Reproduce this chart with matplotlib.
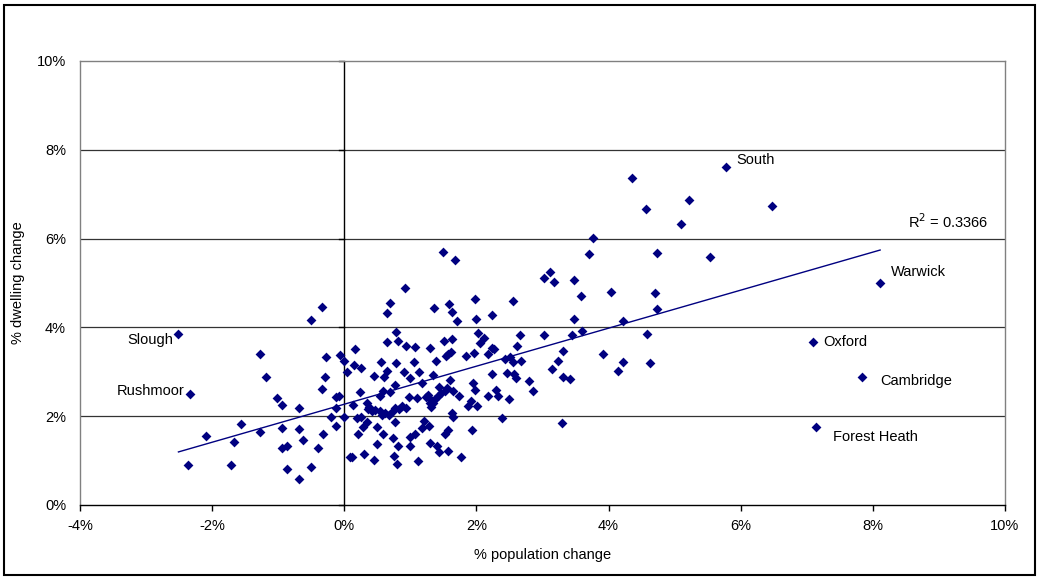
import numpy as np
import matplotlib
matplotlib.use("Agg")
import matplotlib.pyplot as plt
from matplotlib.patches import Rectangle

plt.rcParams['font.family'] = ['Liberation Sans', 'DejaVu Sans']

# % population change / % dwelling change for each district
pop_change = [
    -0.34, -0.50, -1.28, -0.27, -0.07, -0.01, 0.04, -1.18, -0.29, -0.33, -1.02, -0.95,
    -0.68, -0.12, -0.08, -0.12, -0.20, -0.01, -1.56, -2.10, -1.67, -1.28, -0.95, -0.69,
    -0.62, -0.32, -0.12, -0.95, -0.87, -0.40, 0.08, -2.36, -1.71, -0.86, -0.51, -0.69,
    0.92, 0.69, 0.65, 1.36, 1.58, 1.63, 1.70, 1.98, 1.99, 2.24, 2.56,
    0.78, 0.64, 0.82, 0.93, 1.07, 1.30, 1.51, 1.63, 2.02, 2.12, 2.05, 2.24, 2.27, 2.66,
    2.62, 0.16, 0.15, 0.25, 0.56, 0.78, 1.05, 0.64, 0.60, 0.45, 0.91, 0.99, 1.13, 1.34,
    1.39, 1.54, 1.57, 1.61, 1.84, 1.96, 2.17, 1.60, 2.23, 2.43, 2.51, 2.56, 2.68, 2.47,
    2.57, 2.60, 2.80, 2.85,
    0.77, 0.69, 0.59, 0.54, 0.24, 0.13, 0.35, 0.36, 0.42, 0.47, 0.54, 0.57, 0.67, 0.72,
    0.77, 0.83, 0.93, 0.98, 1.10, 1.18, 1.23, 1.28, 1.30, 1.31, 1.37, 1.42, 1.43, 1.47,
    1.52, 1.55, 1.65, 1.74, 1.87, 1.92, 1.95, 1.98, 2.01, 2.18, 2.29, 2.33, 2.50, 2.39,
    1.63, 1.65, 0.38, 0.62, 0.88, 1.35, 1.33, 1.26,
    0.19, 0.25, 0.34, 0.29, 0.21, 0.49, 0.77, 0.59, 0.74, 0.49, 0.81, 0.99, 1.07, 1.00,
    1.21, 1.18, 1.28, 1.29, 1.40, 1.43, 1.57, 1.53, 1.93, 0.11, 0.30, 0.45, 0.76, 0.80,
    1.11, 1.57, 1.77, 1.50, 1.67,
    4.36, 4.57, 5.22, 5.09, 6.47, 3.77, 3.71, 4.74, 5.54, 3.02, 3.12, 3.18, 3.47, 3.58,
    4.03, 4.71, 4.73, 3.48, 4.22, 3.03, 3.45, 3.60, 4.58, 3.31, 3.24, 3.14, 3.91, 4.22,
    4.14, 4.63, 3.31, 3.41, 3.30,
]
dwell_change = [
    4.47, 4.16, 3.41, 3.33, 3.38, 3.24, 3.00, 2.89, 2.89, 2.62, 2.41, 2.26,
    2.18, 2.44, 2.45, 2.18, 1.99, 1.99, 1.82, 1.55, 1.43, 1.64, 1.73, 1.72,
    1.47, 1.59, 1.79, 1.29, 1.34, 1.29, 1.07, 0.91, 0.89, 0.80, 0.85, 0.58,
    4.88, 4.56, 4.33, 4.43, 4.52, 4.35, 4.15, 4.65, 4.19, 4.29, 4.59,
    3.90, 3.68, 3.69, 3.58, 3.55, 3.54, 3.69, 3.73, 3.88, 3.77, 3.64, 3.54, 3.51, 3.84,
    3.57, 3.51, 3.15, 3.08, 3.23, 3.19, 3.21, 3.02, 2.88, 2.90, 2.99, 2.86, 3.00, 2.93,
    3.24, 3.36, 3.39, 3.45, 3.36, 3.43, 3.41, 2.82, 2.94, 3.29, 3.34, 3.23, 3.24, 2.98,
    2.94, 2.85, 2.79, 2.57,
    2.70, 2.54, 2.57, 2.45, 2.54, 2.25, 2.29, 2.16, 2.12, 2.15, 2.12, 2.03, 2.03, 2.10,
    2.19, 2.16, 2.18, 2.43, 2.42, 2.75, 2.44, 2.40, 2.29, 2.21, 2.38, 2.45, 2.66, 2.52,
    2.56, 2.64, 2.57, 2.46, 2.23, 2.34, 2.74, 2.59, 2.24, 2.45, 2.59, 2.46, 2.39, 1.95,
    2.08, 1.99, 2.20, 2.08, 2.22, 2.30, 2.33, 2.48,
    1.95, 1.99, 1.88, 1.76, 1.60, 1.76, 1.88, 1.59, 1.52, 1.37, 1.33, 1.54, 1.60, 1.33,
    1.90, 1.74, 1.78, 1.39, 1.34, 1.19, 1.70, 1.60, 1.69, 1.07, 1.15, 1.01, 1.11, 0.92,
    1.00, 1.22, 1.07, 5.69, 5.51,
    7.37, 6.67, 6.86, 6.34, 6.74, 6.01, 5.65, 5.68, 5.59, 5.11, 5.25, 5.03, 5.07, 4.70,
    4.79, 4.77, 4.42, 4.20, 4.14, 3.83, 3.83, 3.92, 3.86, 3.47, 3.24, 3.06, 3.40, 3.22,
    3.02, 3.19, 2.89, 2.84, 1.84,
]

# labelled districts
names = ["South", "Warwick", "Oxford", "Cambridge", "Forest Heath", "Slough", "Rushmoor"]
names_pop = [5.78, 8.11, 7.10, 7.84, 7.14, -2.51, -2.33]
names_dwell = [7.61, 5.00, 3.67, 2.88, 1.76, 3.85, 2.50]

x = np.array(pop_change + names_pop) / 100
y = np.array(dwell_change + names_dwell) / 100

fig = plt.figure(figsize=(10.4, 5.79), dpi=100)
ax = fig.add_axes([80/1040, 1 - 505/579, 925/1040, 444/579])

navy = '#000080'
ax.scatter(x, y, marker='D', s=25, color=navy, linewidths=0, zorder=3)

# linear trend line
slope, icpt = np.polyfit(x, y, 1)
xl = np.array([x.min(), x.max()])
ax.plot(xl, slope * xl + icpt, color=navy, lw=1, zorder=2)
ax.text(0.0853, 0.0616, 'R$^2$ = 0.3366', fontsize=10.5, ha='left', va='bottom')

offsets = {
    "South": (7, 5, 'left'),
    "Warwick": (8, 8, 'left'),
    "Oxford": (7, 0, 'left'),
    "Cambridge": (13, -3, 'left'),
    "Forest Heath": (12, -7, 'left'),
    "Slough": (-4, -4, 'right'),
    "Rushmoor": (-4, 2, 'right'),
}
for n, px, py in zip(names, names_pop, names_dwell):
    dx, dy, ha = offsets[n]
    ax.annotate(n, (px / 100, py / 100), xytext=(dx, dy), textcoords='offset points',
                ha=ha, va='center', fontsize=10.5)

ax.set_xlim(-0.04, 0.10)
ax.set_ylim(0, 0.10)
ax.set_xticks(np.arange(-0.04, 0.101, 0.02))
ax.set_yticks(np.arange(0, 0.101, 0.02))
ax.set_xticklabels(['-4%', '-2%', '0%', '2%', '4%', '6%', '8%', '10%'])
ax.set_yticklabels(['0%', '2%', '4%', '6%', '8%', '10%'])
ax.tick_params(labelsize=10.5, length=4, width=1, color='black')
ax.tick_params(axis='x', pad=6)
ax.tick_params(axis='y', pad=10, length=0)

for yy in [0.02, 0.04, 0.06, 0.08]:
    ax.axhline(yy, color='#333333', lw=0.9, zorder=1)
ax.axvline(0, color='black', lw=1, zorder=1)
# tick marks on the zero axis
for yy in np.arange(0, 0.101, 0.02):
    ax.plot([-0.0008, 0], [yy, yy], color='black', lw=1, clip_on=False)

for s in ['top', 'right', 'left']:
    ax.spines[s].set_color('#808080')
    ax.spines[s].set_linewidth(1)
ax.spines['bottom'].set_color('black')
ax.spines['bottom'].set_linewidth(1)

ax.set_xlabel('% population change', fontsize=10.5, labelpad=11)
fig.text(18/1040, 1 - 283/579, '% dwelling change', rotation=90, fontsize=10.5,
         ha='center', va='center')

fig.patches.append(Rectangle((4/1040, 4/579), 1031/1040, 570/579, transform=fig.transFigure,
                             fill=False, edgecolor='black', lw=1.5))

fig.savefig('out.png', dpi=100)
